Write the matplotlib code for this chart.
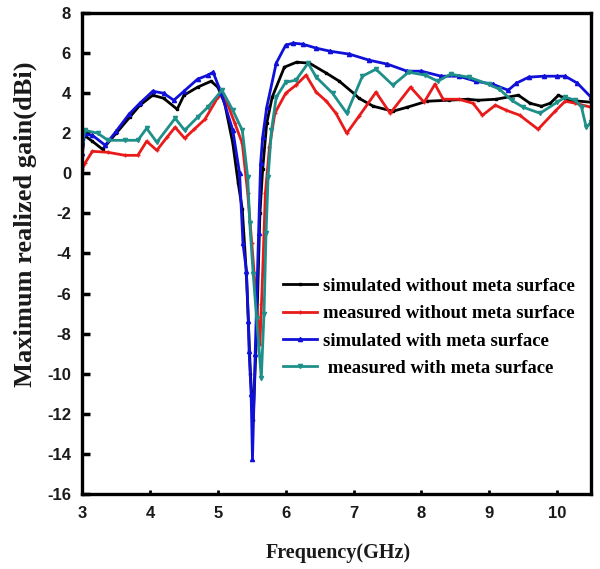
import matplotlib.pyplot as plt
from matplotlib.ticker import MultipleLocator, FixedLocator

plt.rcParams["axes.unicode_minus"] = False

# simulated without meta surface (black)
f_sim_wo = [3.0, 3.03, 3.15, 3.3, 3.5, 3.7, 3.85, 4.04, 4.2, 4.4, 4.5, 4.7, 4.9, 5.0,
            5.1, 5.22, 5.3, 5.36, 5.42, 5.48, 5.52, 5.57, 5.62, 5.66, 5.72, 5.8, 5.98,
            6.16, 6.35, 6.6, 6.79, 7.0, 7.08, 7.29, 7.58, 7.79, 8.08, 8.4, 8.68, 8.84,
            9.1, 9.43, 9.6, 9.77, 9.9, 10.02, 10.17, 10.5]
g_sim_wo = [0.9, 1.9, 1.6, 1.2, 2.0, 2.8, 3.4, 3.9, 3.75, 3.2, 3.9, 4.3, 4.6, 4.3,
            3.5, 1.5, -0.5, -1.8, -5.0, -10.0, -12.3, -8.0, -2.0, 0.2, 2.5, 3.8, 5.3,
            5.55, 5.5, 5.0, 4.6, 4.0, 3.75, 3.35, 3.1, 3.3, 3.6, 3.65, 3.7, 3.65,
            3.7, 3.9, 3.5, 3.35, 3.5, 3.9, 3.65, 3.55]

# measured without meta surface (red)
f_meas_wo = [3.0, 3.04, 3.15, 3.38, 3.63, 3.82, 3.95, 4.1, 4.25, 4.37, 4.51, 4.65, 4.81,
             5.0, 5.05, 5.15, 5.25, 5.36, 5.44, 5.5, 5.57, 5.62, 5.66, 5.7, 5.76, 5.84,
             6.0, 6.15, 6.3, 6.45, 6.6, 6.74, 6.9, 7.08, 7.33, 7.54, 7.84, 8.04, 8.2,
             8.32, 8.55, 8.76, 8.9, 9.09, 9.25, 9.45, 9.72, 9.97, 10.12, 10.27, 10.5]
g_meas_wo = [0.2, 0.5, 1.1, 1.05, 0.9, 0.9, 1.6, 1.15, 1.8, 2.3, 1.75, 2.2, 2.7,
             3.8, 4.0, 3.4, 2.5, 1.5, -1.0, -3.5, -6.5, -8.5, -5.0, -1.0, 1.3, 3.0,
             4.0, 4.4, 4.9, 4.05, 3.6, 3.0, 2.0, 2.85, 4.05, 3.0, 4.3, 3.55, 4.45,
             3.7, 3.7, 3.5, 2.9, 3.4, 3.15, 2.9, 2.2, 3.1, 3.6, 3.5, 3.3]

# simulated with meta surface (blue)
f_sim_w = [3.0, 3.03, 3.15, 3.34, 3.5, 3.69, 3.85, 4.04, 4.2, 4.35, 4.5, 4.7, 4.85,
           4.93, 5.05, 5.22, 5.32, 5.37, 5.42, 5.45, 5.46, 5.49, 5.51, 5.55, 5.6, 5.63,
           5.66, 5.72, 5.86, 6.0, 6.11, 6.25, 6.45, 6.65, 6.94, 7.23, 7.5, 7.79, 8.0,
           8.29, 8.55, 8.8, 9.05, 9.28, 9.4, 9.58, 9.8, 10.0, 10.12, 10.3, 10.5]
g_sim_w = [1.0, 1.95, 1.9, 1.4, 2.1, 2.95, 3.5, 4.1, 4.0, 3.65, 4.1, 4.7, 4.9,
           5.05, 4.0, 2.15, 0.0, -3.5, -4.85, -7.35, -8.85, -11.0, -14.25, -9.0, -3.0, 0.5,
           1.8, 3.3, 5.5, 6.4, 6.5, 6.45, 6.25, 6.1, 5.95, 5.65, 5.45, 5.1, 5.1,
           4.85, 4.85, 4.6, 4.45, 4.15, 4.5, 4.8, 4.85, 4.85, 4.85, 4.5, 3.8]

# measured with meta surface (teal)
f_meas_w = [3.0, 3.04, 3.23, 3.38, 3.63, 3.82, 3.95, 4.1, 4.37, 4.51, 4.7, 4.85, 5.06,
            5.22, 5.36, 5.44, 5.47, 5.52, 5.57, 5.64, 5.68, 5.71, 5.74, 5.79, 5.86, 6.0,
            6.15, 6.33, 6.45, 6.69, 6.9, 7.13, 7.33, 7.58, 7.81, 8.06, 8.24, 8.43, 8.7,
            8.99, 9.15, 9.33, 9.5, 9.75, 10.0, 10.12, 10.27, 10.36, 10.43, 10.5]
g_meas_w = [1.5, 2.15, 2.0, 1.65, 1.65, 1.65, 2.25, 1.55, 2.75, 2.15, 2.8, 3.3, 4.15,
            3.15, 2.15, -0.2, -2.5, -5.0, -7.2, -10.2, -7.0, -3.0, -0.2, 2.15, 3.8, 4.55,
            4.65, 5.5, 4.8, 4.0, 3.0, 4.85, 5.2, 4.4, 5.05, 4.9, 4.6, 4.95, 4.8,
            4.45, 4.2, 3.65, 3.3, 3.0, 3.55, 3.8, 3.65, 3.3, 2.3, 2.55]

labels = ["simulated without meta surface", "measured without meta surface",
          "simulated with meta surface", " measured with meta surface"]

serif = ["Liberation Serif", "DejaVu Serif"]
sans = ["Liberation Sans", "DejaVu Sans"]

fig = plt.figure(figsize=(6.0, 5.69), dpi=100)
ax = fig.add_axes([0.137, 0.132, 0.848, 0.845])

ax.plot(f_sim_wo, g_sim_wo, color="black", lw=2.0, marker="s", ms=2, label=labels[0])
ax.plot(f_meas_wo, g_meas_wo, color="#e81a1a", lw=2.0, marker="+", ms=3, label=labels[1])
ax.plot(f_sim_w, g_sim_w, color="#1010d8", lw=2.0, marker="^", ms=3, label=labels[2])
ax.plot(f_meas_w, g_meas_w, color="#1f8f8a", lw=2.0, marker="v", ms=3, label=labels[3])

ax.set_xlim(3, 10.5)
ax.set_ylim(-16, 8)
ax.xaxis.set_major_locator(MultipleLocator(1))
ax.xaxis.set_minor_locator(FixedLocator([4, 6, 8, 10]))
ax.yaxis.set_major_locator(MultipleLocator(2))
ax.tick_params(axis="x", which="major", direction="in", length=3, width=2, pad=9)
ax.tick_params(axis="x", which="minor", direction="in", length=6, width=2)
ax.tick_params(axis="y", direction="in", length=6, width=2.5, pad=8)
for lab in ax.get_xticklabels() + ax.get_yticklabels():
    lab.set_family(sans)
    lab.set_fontweight("bold")
    lab.set_fontsize(12)
    lab.set_color("#1a1a1a")
for sp in ax.spines.values():
    sp.set_linewidth(2.4)

ax.set_xlabel("Frequency(GHz)", family=serif, fontweight="bold", fontsize=14.5, color="#1a1a1a")
ax.set_ylabel("Maximum realized gain(dBi)", family=serif, fontweight="bold", fontsize=19, color="#1a1a1a")
ax.xaxis.set_label_coords(0.503, -0.102)
ax.yaxis.set_label_coords(-0.088, 0.56)

ax.legend(loc="upper left", bbox_to_anchor=(0.395, 0.45), frameon=False,
          prop={"family": serif, "weight": "bold", "size": 13.5},
          handlelength=1.8, handletextpad=0.3, labelspacing=0.55,
          borderaxespad=0, borderpad=0)

fig.savefig("out.png", dpi=100)
